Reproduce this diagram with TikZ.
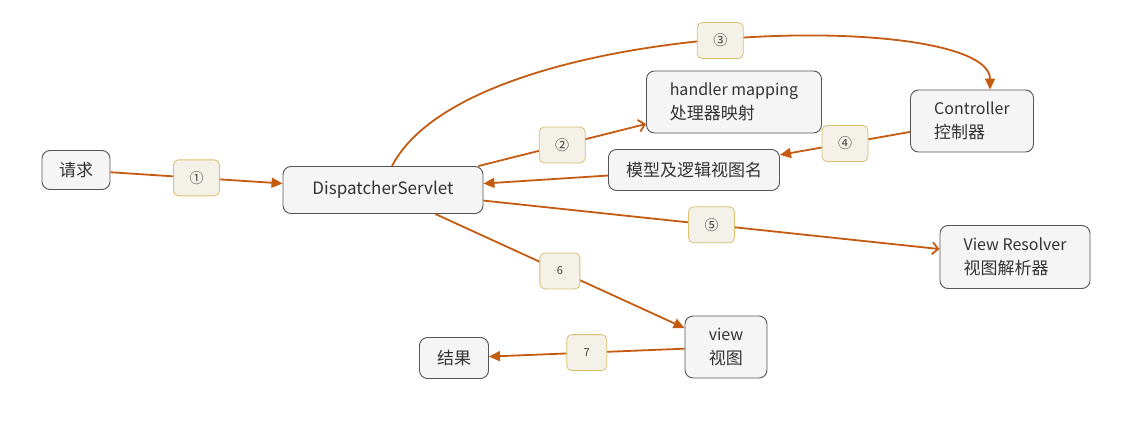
\documentclass[tikz,border=0pt]{standalone}
\usepackage{fontspec}
\setmainfont{Noto Sans CJK SC}
\usetikzlibrary{arrows.meta}
\definecolor{flowc}{RGB}{197,90,17}
\definecolor{numline}{RGB}{216,192,112}
\definecolor{numfill}{RGB}{243,241,232}
\definecolor{boxline}{RGB}{85,85,85}
\definecolor{boxfill}{RGB}{245,245,245}
\newcommand\zh[1]{{\fontsize{17}{24}\selectfont #1}}
\begin{document}
\begin{tikzpicture}[x=1pt,y=-1pt,
  box/.style={draw=boxline,fill=boxfill,rounded corners=8pt,line width=0.9pt,inner sep=0pt,align=left,text=black!80,font=\fontsize{16}{24}\selectfont},
  num/.style={draw=numline,fill=numfill,rounded corners=5pt,line width=0.8pt,minimum width=46pt,minimum height=36pt,inner sep=0pt,text=black!75,font=\fontsize{14}{14}\selectfont},
  numsm/.style={num,minimum width=40pt,font=\fontsize{11}{11}\selectfont},
  flow/.style={draw=flowc,line width=1.8pt,-{Triangle[length=11pt,width=10pt]}},
  openflow/.style={draw=flowc,line width=1.8pt,-{Straight Barb[length=6pt,width=12pt]}}]
\useasboundingbox (0,0) rectangle (1130,433);
\node[box,minimum width=68pt,minimum height=39pt] (req) at (76,170) {\zh{请求}};
\node[box,minimum width=200pt,minimum height=47pt,font=\fontsize{17}{20}\selectfont] (ds) at (383,190) {DispatcherServlet};
\node[box,minimum width=175pt,minimum height=62pt] (hm) at (734,102) {handler mapping\\\zh{处理器映射}};
\node[box,minimum width=171pt,minimum height=41pt] (mdl) at (694,170) {\zh{模型及逻辑视图名}};
\node[box,minimum width=123pt,minimum height=62pt] (ctrl) at (972,121) {Controller\\\zh{控制器}};
\node[box,minimum width=150pt,minimum height=63pt] (vr) at (1015,257) {View Resolver\\\zh{视图解析器}};
\node[box,minimum width=82pt,minimum height=62pt] (view) at (726,347) {view\\\zh{视图}};
\node[box,minimum width=69pt,minimum height=41pt] (res) at (454,358) {\zh{结果}};
\draw[flow] (req) -- node[num]{①} (ds);
\draw[openflow] (ds) -- node[num]{②} (hm);
\draw[flow] ([xshift=9pt]ds.north) .. controls (470,15) and (990,8) .. ([xshift=18pt]ctrl.north) node[num,pos=0.5]{③};
\draw[flow] (ctrl) -- node[num]{④} (mdl);
\draw[flow] (mdl) -- (ds);
\draw[openflow] (ds) -- node[num]{⑤} (vr);
\draw[flow] (ds) -- node[numsm]{6} (view);
\draw[flow] (view) -- node[numsm]{7} (res);
\end{tikzpicture}
\end{document}
